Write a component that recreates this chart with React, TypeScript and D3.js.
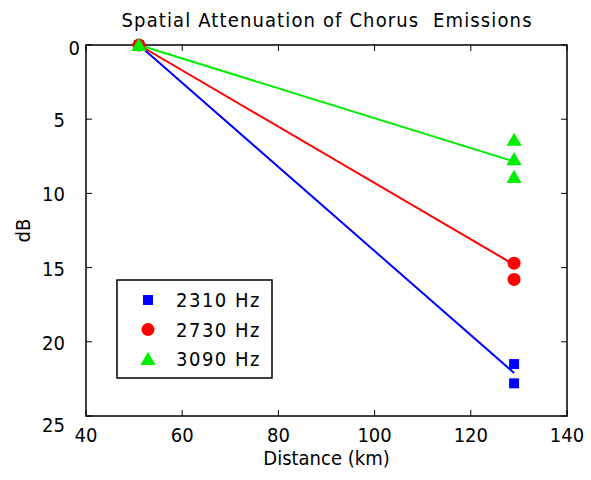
import React from "react";
import * as d3 from "d3";

// measurement distances (km)
const distances = [51, 129, 129];
const fitDistances = [51, 129];

const labels = ["2310 Hz", "2730 Hz", "3090 Hz"];
const attenuation2310 = [0, 21.5, 22.8];
const attenuation2730 = [0, 14.7, 15.8];
const attenuation3090 = [0, 6.4, 7.7, 8.9];
const distances3090 = [51, 129, 129, 129];
const fit2310 = [0, 22.1];
const fit2730 = [0, 14.8];
const fit3090 = [0, 7.85];

const xTicks = [40, 60, 80, 100, 120, 140];
const yTicks = [0, 5, 10, 15, 20, 25];

const colors = ["#0000ff", "#ff0000", "#00ee00"];
const shapes = [d3.symbolSquare, d3.symbolCircle, d3.symbolTriangle];
const sizes = [100, 133, 100];

export default function App() {
  const W = 591, H = 480;
  const m = { left: 86, right: 24, top: 45, bottom: 64 };
  const x = d3.scaleLinear().domain([40, 140]).range([m.left, W - m.right]);
  const y = d3.scaleLinear().domain([0, 25]).range([m.top, H - m.bottom]);
  const font = "'DejaVu Sans Condensed', 'DejaVu Sans', sans-serif";

  const series = [
    { xs: distances, ys: attenuation2310, fit: fit2310 },
    { xs: distances, ys: attenuation2730, fit: fit2730 },
    { xs: distances3090, ys: attenuation3090, fit: fit3090 },
  ];
  const line = d3.line<[number, number]>().x(d => x(d[0])).y(d => y(d[1]));
  const [x0, x1] = x.range();
  const [y0, y1] = y.range();
  const tl = 6;

  return (
    <svg width={W} height={H} style={{ position: "absolute", left: 0, top: 0, background: "#fff" }}
      fontFamily={font}>
      <text x={(x0 + x1) / 2} y={27} textAnchor="middle" fontSize={20}
        textLength={410} lengthAdjust="spacing" style={{ whiteSpace: "pre" }}>
        Spatial Attenuation of Chorus  Emissions
      </text>
      <rect x={x0} y={y0} width={x1 - x0} height={y1 - y0} fill="none" stroke="#000" strokeWidth={1.5} />
      {xTicks.map(t => (
        <g key={"x" + t}>
          <line x1={x(t)} x2={x(t)} y1={y1} y2={y1 - tl} stroke="#000" />
          <line x1={x(t)} x2={x(t)} y1={y0} y2={y0 + tl} stroke="#000" />
          <text x={x(t)} y={y1 + 25.5} textAnchor="middle" fontSize={20}>{t}</text>
        </g>
      ))}
      {yTicks.map(t => (
        <g key={"y" + t}>
          <line x1={x0} x2={x0 + tl} y1={y(t)} y2={y(t)} stroke="#000" />
          <line x1={x1} x2={x1 - tl} y1={y(t)} y2={y(t)} stroke="#000" />
          <text x={t === 0 ? x0 - 6 : x0 - 21} y={y(t) + (t === 0 ? 10 : t === 25 ? 16 : 8)}
            textAnchor="end" fontSize={20}>{t}</text>
        </g>
      ))}
      <text x={(x0 + x1) / 2} y={465} textAnchor="middle" fontSize={20}>Distance (km)</text>
      <text transform={`translate(30,${(y0 + y1) / 2})  rotate(-90)`} textAnchor="middle" fontSize={20}>dB</text>

      {series.map((s, i) => (
        <path key={"l" + i} d={line(fitDistances.map((d, j) => [d, s.fit[j]]) as [number, number][]) || ""}
          fill="none" stroke={colors[i]} strokeWidth={2} />
      ))}
      {series.map((s, i) => s.ys.map((v, j) => (
        <path key={"p" + i + "-" + j} d={d3.symbol(shapes[i], sizes[i])() || ""}
          transform={`translate(${x(s.xs[j])},${y(v) + (i === 2 ? 1.5 : 0)})`} fill={colors[i]} />
      )))}

      <rect x={117} y={280} width={155} height={98} fill="#fff" stroke="#000" strokeWidth={1.5} />
      {labels.map((l, i) => (
        <g key={l} transform={`translate(0,${300 + i * 29.5})`}>
          <path d={d3.symbol(shapes[i], sizes[i])() || ""} transform={`translate(148,${i === 2 ? 1.5 : 0})`} fill={colors[i]} />
          <text x={176} y={7} fontSize={20} letterSpacing={1.5}>{l}</text>
        </g>
      ))}
    </svg>
  );
}
